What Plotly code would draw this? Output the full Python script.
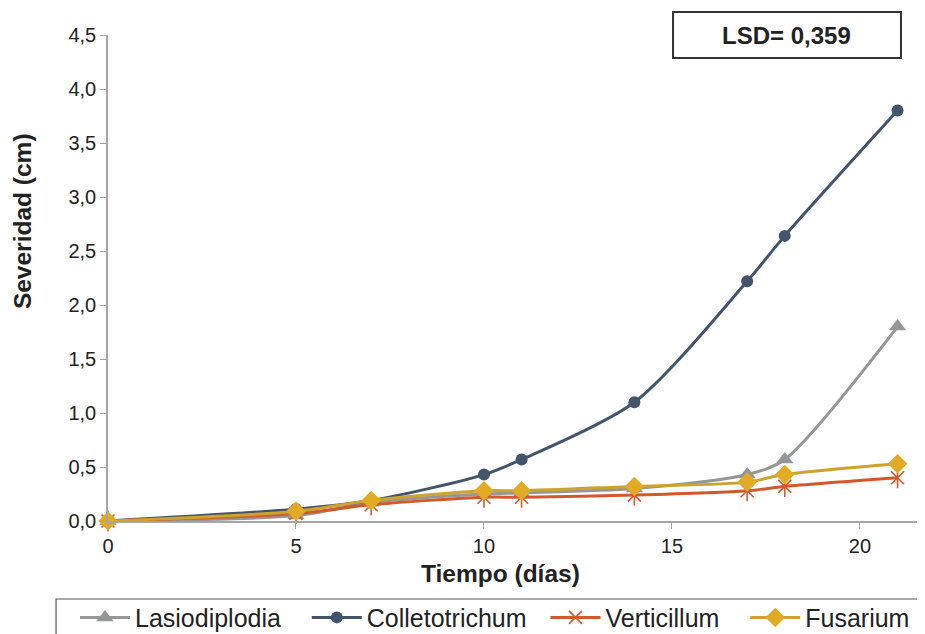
import plotly.graph_objects as go

dias = [0, 5, 7, 10, 11, 14, 17, 18, 21]
lasiodiplodia = [0.0, 0.05, 0.17, 0.25, 0.26, 0.30, 0.43, 0.57, 1.80]
colletotrichum = [0.0, 0.11, 0.19, 0.43, 0.57, 1.10, 2.22, 2.64, 3.80]
verticillum = [0.0, 0.07, 0.15, 0.22, 0.22, 0.24, 0.28, 0.32, 0.40]
fusarium = [0.0, 0.09, 0.19, 0.28, 0.28, 0.32, 0.36, 0.43, 0.53]

FONT = "Arial, Liberation Sans, sans-serif"
NB = "\u00a0"

fig = go.Figure()
fig.add_trace(go.Scatter(
    x=dias, y=lasiodiplodia, name="Lasiodiplodia" + NB * 3, mode="lines+markers",
    line=dict(color="#959698", width=3, shape="spline", smoothing=0.8),
    marker=dict(symbol="triangle-up", size=15, color="#959698"),
    cliponaxis=False))
fig.add_trace(go.Scatter(
    x=dias, y=colletotrichum, name="Colletotrichum" + NB * 2, mode="lines+markers",
    line=dict(color="#44546A", width=3, shape="spline", smoothing=0.8),
    marker=dict(symbol="circle", size=12, color="#44546A"),
    cliponaxis=False))
fig.add_trace(go.Scatter(
    x=dias, y=verticillum, name="Verticillum" + NB * 3, mode="lines+markers",
    line=dict(color="#D4582A", width=3, shape="spline", smoothing=0.8),
    marker=dict(symbol="x-thin-open", size=13, color="#D4582A",
                line=dict(width=1.6, color="#D4582A")),
    legendgroup="v", cliponaxis=False))
fig.add_trace(go.Scatter(
    x=dias, y=verticillum, name="Verticillum", mode="markers",
    marker=dict(symbol="line-ns-open", size=15, color="#D4582A",
                line=dict(width=1.6, color="#D4582A")),
    legendgroup="v", showlegend=False, cliponaxis=False))
fig.add_trace(go.Scatter(
    x=dias, y=fusarium, name="Fusarium", mode="lines+markers",
    line=dict(color="#CDA22D", width=3, shape="spline", smoothing=0.8),
    marker=dict(symbol="diamond", size=15, color="#E2AB26"),
    cliponaxis=False))

fig.update_layout(
    width=917, height=626,
    margin=dict(l=100, r=0, t=27, b=113, autoexpand=False),
    paper_bgcolor="white", plot_bgcolor="white",
    separators=",.",
    font=dict(family=FONT, size=20, color="#222222"),
    showlegend=True,
    legend=dict(
        orientation="h", x=-0.0404, y=-0.1515, xanchor="left", yanchor="top",
        font=dict(family=FONT, size=25, color="#222222"),
        borderwidth=0, bgcolor="rgba(0,0,0,0)",
        itemwidth=50, traceorder="normal",
    ),
    xaxis=dict(
        range=[0, 21.73], tick0=0, dtick=5, showgrid=False, zeroline=False,
        showline=True, linecolor="#A6A6A6", linewidth=1.5,
        ticks="outside", ticklen=6, tickcolor="#A6A6A6",
        tickfont=dict(family=FONT, size=20, color="#222222"),
    ),
    yaxis=dict(
        range=[0, 4.5], tick0=0, dtick=0.5, tickformat=".1f", showgrid=False,
        zeroline=False, showline=True, linecolor="#A6A6A6", linewidth=1.5,
        ticks="outside", ticklen=6, tickcolor="#A6A6A6",
        tickfont=dict(family=FONT, size=20, color="#222222"),
    ),
    shapes=[
        dict(type="rect", xref="paper", yref="paper",
             x0=0.6916, x1=0.9706, y0=0.9527, y1=1.0473,
             line=dict(color="#333333", width=2), fillcolor="white"),
        dict(type="rect", xref="paper", yref="paper",
             x0=-0.0636, x1=1.05, y0=-0.4, y1=-0.1605,
             line=dict(color="#555555", width=1.2), fillcolor="rgba(0,0,0,0)"),
    ],
    annotations=[
        dict(text="<b>LSD= 0,359</b>", xref="paper", yref="paper",
             x=0.831, y=0.999, xanchor="center", yanchor="middle", showarrow=False,
             font=dict(family=FONT, size=24, color="#222222")),
        dict(text="<b>Tiempo (días)</b>", xref="paper", yref="paper",
             x=0.481, y=-0.107, xanchor="center", yanchor="middle", showarrow=False,
             font=dict(family=FONT, size=24.5, color="#222222")),
        dict(text="<b>Severidad (cm)</b>", xref="paper", yref="paper",
             x=-0.1053, y=0.617, xanchor="center", yanchor="middle", showarrow=False,
             textangle=-90,
             font=dict(family=FONT, size=24.5, color="#222222")),
    ],
)

fig.write_html("out.html")
